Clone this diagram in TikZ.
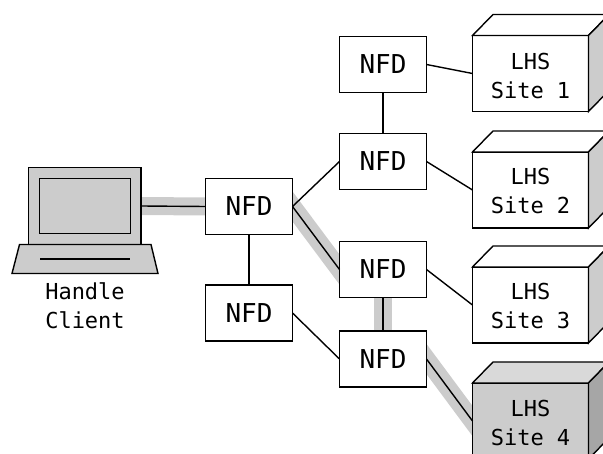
\documentclass[tikz,border=0pt]{standalone}
\usepackage{fontspec}
\setmonofont{DejaVu Sans Mono}
\usetikzlibrary{backgrounds}
\definecolor{pathgray}{HTML}{CCCCCC}
\definecolor{topgray}{HTML}{D9D9D9}
\definecolor{sidegray}{HTML}{A6A6A6}
\tikzset{
  link/.style={line width=1.4pt},
  hipath/.style={line width=18pt, pathgray, shorten <=-12pt, shorten >=-12pt},
  nfd/.style={draw, line width=1.4pt, fill=white, outer sep=0pt, inner sep=0pt,
    minimum width=87pt, minimum height=56pt, font=\ttfamily\fontsize{26}{29}\selectfont},
  lhs/.style={draw, line width=1.4pt, fill=white, outer sep=0pt, inner sep=0pt,
    minimum width=116pt, minimum height=76pt},
  lhstext/.style={align=center, inner sep=0pt, font=\ttfamily\fontsize{22}{29}\selectfont},
  face/.style={draw, line width=1.4pt, line join=miter}
}
\begin{document}
\begin{tikzpicture}[x=1pt, y=-1pt]
\useasboundingbox (0,0) rectangle (603,454);
\clip (0,0) rectangle (603,454);
% forwarders
\node[nfd] (main) at (249,206.5) {NFD};
\node[nfd] (low) at (249,313) {NFD};
\node[nfd] (A) at (383,64.5) {NFD};
\node[nfd] (B) at (383,161.5) {NFD};
\node[nfd] (C) at (383,269.5) {NFD};
\node[nfd] (D) at (383,359) {NFD};
% sites
\node[lhs] (site1) at (530.5,73.5) {};
\node[lhs] (site2) at (530.5,190) {};
\node[lhs] (site3) at (530.5,305) {};
\node[lhs, fill=pathgray] (site4) at (530.5,421) {};
\foreach \s in {1,2,3}{
  \draw[face, fill=white] (site\s.north west) -- ++(20.5,-21) -- ++(116,0) -- (site\s.north east) -- cycle;
  \draw[face, fill=pathgray] (site\s.north east) -- ++(20.5,-21) -- ++(0,76) -- (site\s.south east) -- cycle;
}
\draw[face, fill=topgray] (site4.north west) -- ++(20.5,-21) -- ++(116,0) -- (site4.north east) -- cycle;
\draw[face, fill=sidegray] (site4.north east) -- ++(20.5,-21) -- ++(0,76) -- (site4.south east) -- cycle;
\node[lhstext] (label1) at (530.5,76) {LHS\\Site 1};
\node[lhstext] (label2) at (530.5,190.5) {LHS\\Site 2};
\node[lhstext] (label3) at (530.5,305.5) {LHS\\Site 3};
\node[lhstext] (label4) at (530.5,422.5) {LHS\\Site 4};
% laptop
\node[draw, line width=1.4pt, fill=pathgray, outer sep=0pt, minimum width=112.5pt, minimum height=76.5pt] (lid) at (84.75,206) {};
\node[draw, line width=1.4pt, fill=pathgray, outer sep=0pt, minimum width=91pt, minimum height=55pt] (screen) at (lid.center) {};
\draw[face, fill=pathgray] (19.5,244.5) -- (151,244.5) -- (158,273.5) -- (12,273.5) -- cycle;
\draw[link] (40,259) -- (130,259);
\node[lhstext] (client) at (85,306) {Handle\\Client};
% links
\draw[link] (lid.east) -- (main.west);
\draw[link] (main.south) -- (low.north);
\draw[link] (main.east) -- (B.west);
\draw[link] (main.east) -- (C.west);
\draw[link] (low.east) -- (D.west);
\draw[link] (A.south) -- (B.north);
\draw[link] (C.south) -- (D.north);
\draw[link] (A.east) -- (site1.west);
\draw[link] (B.east) -- (site2.west);
\draw[link] (C.east) -- (site3.west);
\draw[link] (D.east) -- (site4.west);
% highlighted route
\begin{scope}[on background layer]
\draw[hipath] (lid.east) -- (main.west);
\draw[hipath] (main.east) -- (C.west);
\draw[hipath] (C.south) -- (D.north);
\draw[hipath] (D.east) -- (site4.west);
\end{scope}
\end{tikzpicture}
\end{document}
